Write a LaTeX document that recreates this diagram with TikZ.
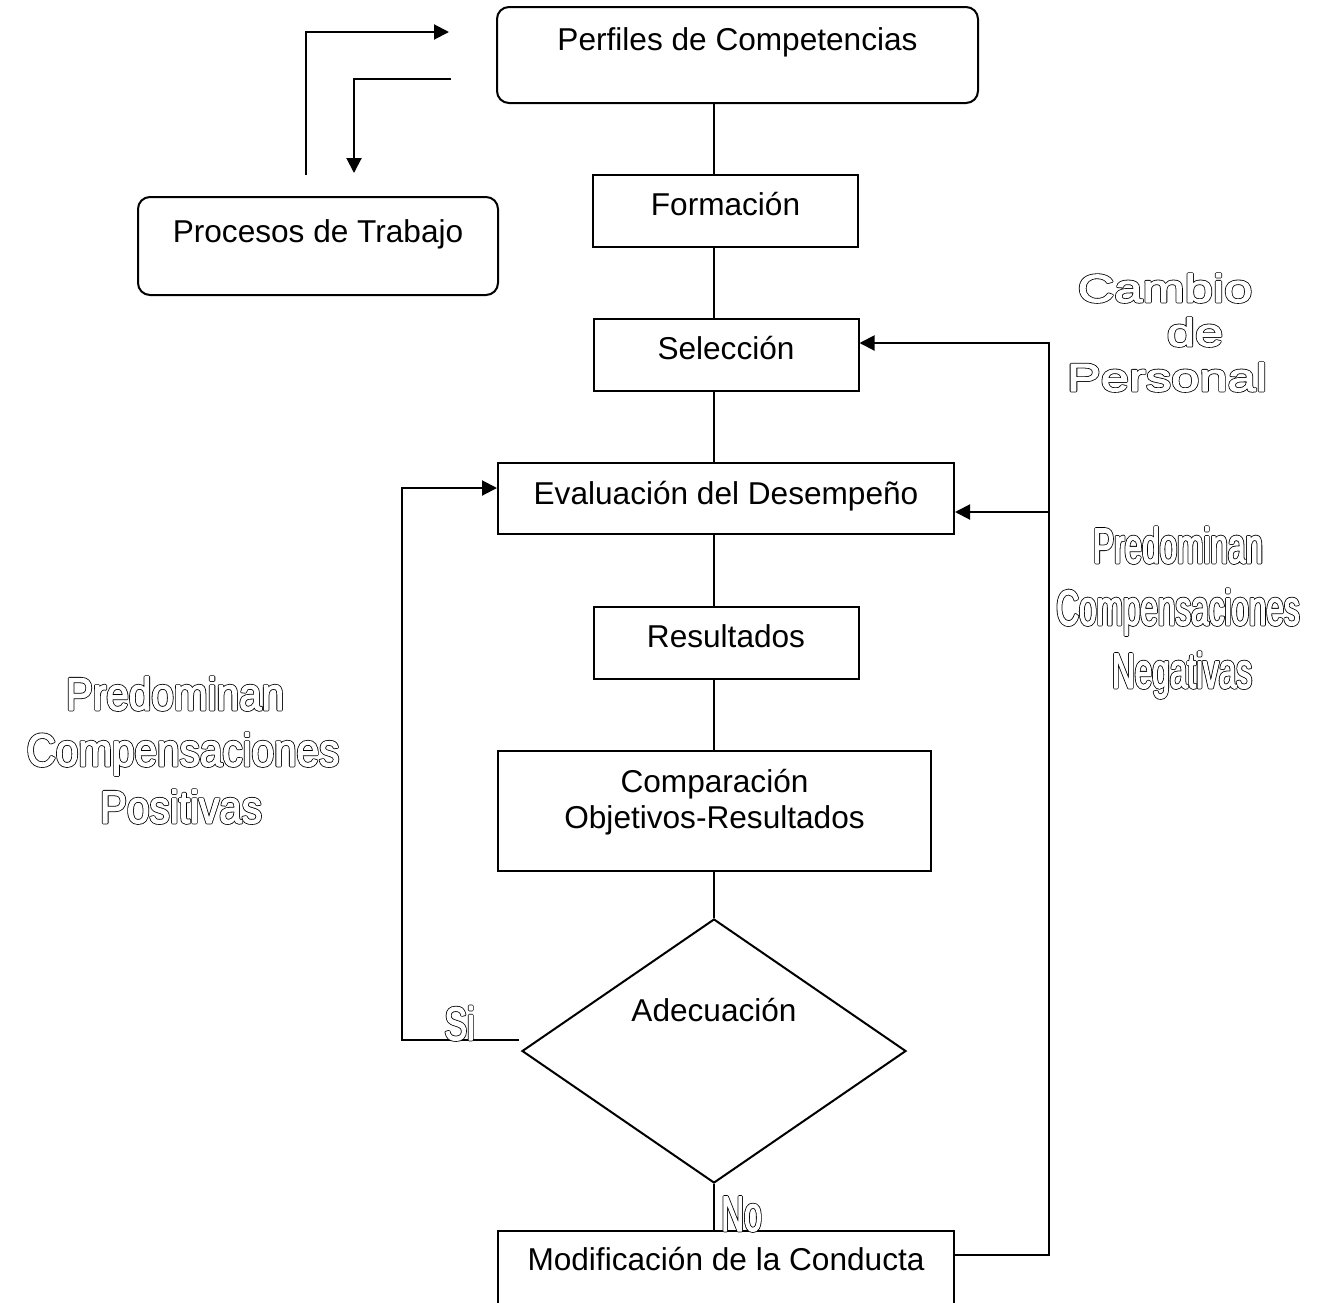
\documentclass[tikz,border=0pt]{standalone}
\usepackage{fontspec}
\setmainfont{Liberation Sans}
% condensed / expanded cuts for the outlined captions
\newfontfamily\hollowA[FakeStretch=0.88]{Liberation Sans}
\newfontfamily\hollowB[FakeStretch=0.63]{Liberation Sans}
\newfontfamily\hollowC[FakeStretch=1.3]{Liberation Sans}
\newfontfamily\hollowD[FakeStretch=0.72]{Liberation Sans}
\usetikzlibrary{arrows.meta,shapes.geometric,calc}

% outlined lettering: a black stroke, then a white fill with a thinner white stroke on top
\newcommand\hol[1]{%
  \special{pdf:literal 1 Tr 1.4 w 0 G 1 j}\rlap{#1}%
  \special{pdf:literal 2 Tr 0.6 w 1 G 1 g}#1%
  \special{pdf:literal 0 Tr 0 G 0 g 1 w 0 j}}

\begin{document}
\begin{tikzpicture}[x=0.5pt,y=-0.5pt,
  ln/.style={line width=1pt},
  box/.style={draw,ln,inner sep=0pt,font=\fontsize{15.8}{18}\selectfont},
  rbox/.style={box,rounded corners=6pt},
  smallbox/.style={box,minimum width=132.5pt,minimum height=36pt,text height=20pt,text depth=16pt},
  con/.style={ln},
  arr/.style={ln,-{Triangle[length=7.5pt,width=7.5pt]}},
  holA/.style={anchor=base,inner sep=0pt,font=\hollowA\fontsize{23}{28}\selectfont},
  holB/.style={anchor=base,inner sep=0pt,font=\hollowB\fontsize{25}{30}\selectfont},
  holC/.style={anchor=base,inner sep=0pt,font=\hollowC\fontsize{19.5}{24}\selectfont},
  holD/.style={anchor=base,inner sep=0pt,font=\hollowD\fontsize{23.5}{28}\selectfont}]
\useasboundingbox (0,0) rectangle (1321,1302);

% process boxes
\node[rbox,minimum width=240.5pt,minimum height=48pt,text height=21.5pt,text depth=26.5pt] (perf) at (737.5,55) {Perfiles de Competencias};
\node[rbox,minimum width=180pt,minimum height=49pt,text height=22.5pt,text depth=26.5pt] (proc) at (318,246) {Procesos de Trabajo};
\node[smallbox] (form) at (725.5,211) {Formación};
\node[smallbox] (sel) at (726,355) {Selección};
\node[box,minimum width=228pt,minimum height=35.5pt,text height=20.5pt,text depth=15pt] (eval) at (726,498.5) {Evaluación del Desempeño};
\node[smallbox] (res) at (726,643) {Resultados};
\node[box,minimum width=216.5pt,minimum height=60pt,text height=20.5pt,text depth=39.5pt] (comp) at (714.5,811)
  {\begin{tabular}[t]{@{}c@{}}Comparación\\Objetivos-Resultados\end{tabular}};
\node[draw,ln,diamond,aspect=1.4545,inner sep=0pt,minimum width=192pt,minimum height=132pt,
  text height=11.5pt,text depth=41.5pt,font=\fontsize{15.8}{18}\selectfont] (ad) at (714,1051) {Adecuación};
\node[box,minimum width=228pt,minimum height=40pt,text height=19.5pt,text depth=20.5pt] (mod) at (726,1271) {Modificación de la Conducta};

% main column
\coordinate (axis) at (714,0);
\draw[con] (perf.south -| axis) -- (form.north -| axis);
\draw[con] (form.south -| axis) -- (sel.north -| axis);
\draw[con] (sel.south -| axis) -- (eval.north -| axis);
\draw[con] (eval.south -| axis) -- (res.north -| axis);
\draw[con] (res.south -| axis) -- (comp.north -| axis);
\draw[con] (comp.south -| axis) -- (ad.north);
\draw[con] (ad.south) -- (mod.north -| axis);

% exchange between profiles and work processes
\coordinate (a1) at (306,175);
\coordinate (a2) at (306,32);
\coordinate (a3) at (449,32);
\coordinate (b1) at (451,79);
\coordinate (b2) at (354,79);
\coordinate (b3) at (354,173);
\draw[arr] (a1) -- (a2) -- (a3);
\draw[arr] (b1) -- (b2) -- (b3);

% "Si" loop back to the evaluation
\coordinate (siL) at (402,1040);
\coordinate (siT) at (402,488);
\draw[arr] ($(ad.west)+(-2,-11)$) -- (siL) -- (siT) -- (eval.west |- siT);

% "No" loop from the behaviour change
\coordinate (rb) at (1049,1255);
\coordinate (rt) at (1049,343);
\coordinate (rm) at (1049,512);
\draw[arr] (mod.east |- rb) -- (rb) -- (rt) -- (sel.east |- rt);
\draw[arr] (rm) -- (eval.east |- rm);

% outlined captions
\node[holC] (cam1) at (1165,302) {\hol{Cambio}};
\node[holC] (cam2) at (1195,346) {\hol{de}};
\node[holC] (cam3) at (1167,391) {\hol{Personal}};

\node[holB] (neg1) at (1178,563) {\hol{Predominan}};
\node[holB] (neg2) at (1178,625) {\hol{Compensaciones}};
\node[holB] (neg3) at (1182,688) {\hol{Negativas}};

\node[holA] (pos1) at (175,710) {\hol{Predominan}};
\node[holA] (pos2) at (183,766) {\hol{Compensaciones}};
\node[holA] (pos3) at (181,823) {\hol{Positivas}};

\node[holD] (si) at (459.5,1040) {\hol{Si}};
\node[holB] (no) at (741.5,1231) {\hol{No}};
\end{tikzpicture}
\end{document}
